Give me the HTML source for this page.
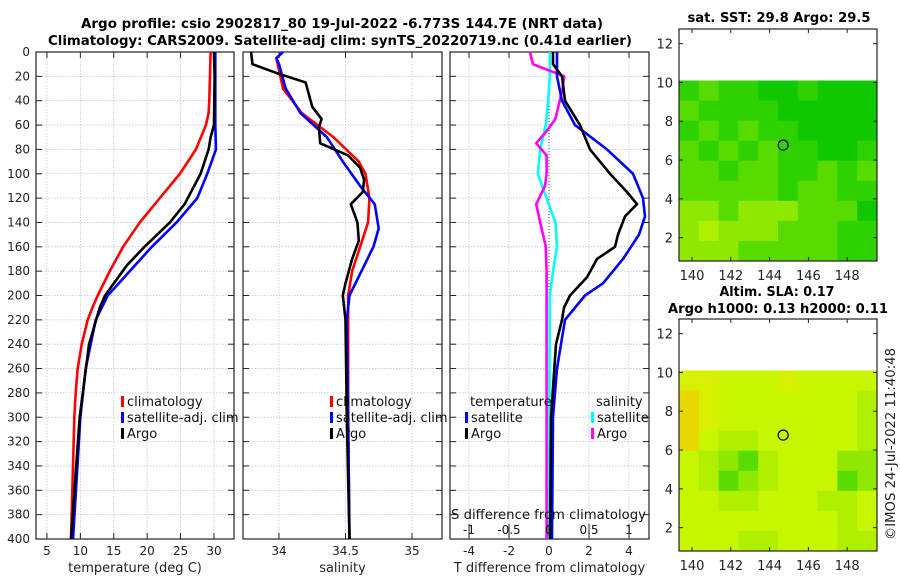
<!DOCTYPE html>
<html><head><meta charset="utf-8"><style>
body{margin:0;background:#fff;}
svg{display:block;font-family:"DejaVu Sans","Liberation Sans",sans-serif;}
</style></head><body>
<svg id="c" width="900" height="580" viewBox="0 0 900 580" xmlns="http://www.w3.org/2000/svg">
<text x="342" y="28" font-size="13" font-weight="bold" text-anchor="middle" textLength="522" lengthAdjust="spacingAndGlyphs">Argo profile: csio 2902817_80 19-Jul-2022 -6.773S 144.7E (NRT data)</text>
<text x="340" y="45" font-size="13" font-weight="bold" text-anchor="middle" textLength="584" lengthAdjust="spacingAndGlyphs">Climatology: CARS2009. Satellite-adj clim: synTS_20220719.nc (0.41d earlier)</text>
<text x="779" y="22" font-size="13" font-weight="bold" text-anchor="middle" textLength="183" lengthAdjust="spacingAndGlyphs">sat. SST: 29.8 Argo: 29.5</text>
<text x="777" y="296" font-size="13" font-weight="bold" text-anchor="middle" textLength="115" lengthAdjust="spacingAndGlyphs">Altim. SLA: 0.17</text>
<text x="778" y="313" font-size="13" font-weight="bold" text-anchor="middle" textLength="220" lengthAdjust="spacingAndGlyphs">Argo h1000: 0.13 h2000: 0.11</text>
<text transform="translate(895,444) rotate(-90)" font-size="13" text-anchor="middle" fill="#222" textLength="192" lengthAdjust="spacingAndGlyphs">©IMOS 24-Jul-2022 11:40:48</text>
</svg>
<script>
// ---- data ----
const depthsT=[0,20,40,50,60,80,100,120,140,160,180,200,210,220,240,260,280,300,320,340,360,380,400];
const tClim=[29.5,29.4,29.3,29.2,28.8,27.3,24.9,21.9,18.9,16.4,14.4,12.6,11.8,11.1,10.2,9.6,9.3,9.1,9.0,8.9,8.8,8.7,8.6];
const depthsArgoT=[0,20,60,70,80,100,125,140,160,175,200,210,240,300,400];
const tArgo=[30.0,30.1,30.0,29.5,29.2,28.0,25.6,23.4,19.6,17.0,13.7,12.9,11.3,9.9,8.6];
const depthsSatT=[0,60,80,100,120,140,160,180,200,220,260,300,400];
const tSat=[30.2,30.2,30.3,29.0,27.5,24.4,20.7,17.4,14.1,12.3,10.8,10.0,8.9];
const depthsArgoS=[0,10,18,25,45,55,62,75,85,95,105,115,125,140,155,170,190,200,220,300,400];
const sArgo=[33.79,33.8,34.0,34.2,34.25,34.32,34.3,34.31,34.52,34.61,34.64,34.63,34.54,34.59,34.6,34.55,34.5,34.48,34.5,34.51,34.53];
const depthsClimS=[5,30,50,70,90,100,120,140,160,180,200,250,300,400];
const sClim=[33.98,34.03,34.17,34.41,34.6,34.65,34.68,34.67,34.61,34.55,34.52,34.52,34.52,34.53];
const depthsSatS=[0,5,10,30,50,70,90,110,125,145,160,180,200,220,300,400];
const sSat=[34.03,33.98,34.0,34.05,34.16,34.36,34.48,34.61,34.72,34.75,34.71,34.62,34.53,34.51,34.52,34.53];
const depthsDT=[0,20,40,60,80,100,120,135,150,170,190,200,220,260,300,400];
const dTSat=[0.4,0.4,0.65,1.3,2.9,4.2,4.7,4.8,4.5,3.7,2.7,1.8,0.8,0.4,0.2,0.15];
const depthsDTA=[0,10,20,40,60,80,100,115,125,135,150,160,170,185,200,210,220,240,300,400];
const dTArgo=[0.2,0.2,0.65,0.8,1.55,2.05,3.05,3.9,4.4,3.8,3.45,3.3,2.4,1.9,1.05,0.75,0.65,0.35,0.1,0.05];
const depthsDS=[0,20,40,60,80,100,120,140,160,180,200,400];
const dSSat=[0.01,0.01,-0.01,-0.04,-0.11,-0.14,-0.03,0.08,0.1,0.05,0.01,0.0];
const depthsDSA=[0,10,20,30,55,65,75,85,100,110,125,140,160,180,400];
const dSArgo=[-0.24,-0.2,0.19,0.17,0.08,-0.03,-0.16,-0.03,-0.03,-0.05,-0.16,-0.11,-0.04,-0.03,-0.03];
const yTicks=[0,20,40,60,80,100,120,140,160,180,200,220,240,260,280,300,320,340,360,380,400];
const tTicks=[5,10,15,20,25,30];
const sTicks=[34,34.5,35];
const sTickLabels=["34","34.5","35"];
const dTTicks=[-4,-2,0,2,4];
const dSTicks=[-1,-0.5,0,0.5,1];
const dSTickLabels=["-1","-0.5","0","0.5","1"];
const lonTicks=[140,142,144,146,148];
const latTicks=[2,4,6,8,10,12];
const sstRows=["bcbbaabaaa","cbbbbaaaaa","bcbcbbaaaa","cbcbcbbaab","ccbccbbcbc","cccccbccbb","ddcdddccca","dedddcccbb","dddcccccbb"];
const slaRows=["ggfffgffff","hgfffffffe","hgfffffffe","hfeefffffe","fedcefffdd","fecdefffcd","ffeefffeef","ffffffffef","fffeefffee"];
const palette={a:"#10c800",b:"#2ed200",c:"#58dc00",d:"#8ee800",e:"#aef000",f:"#c6f600",g:"#d6f000",h:"#e6d800"};
// ---- drawing ----
const NS="http://www.w3.org/2000/svg",svg=document.getElementById('c');
function el(t,a,p){const e=document.createElementNS(NS,t);for(const k in a)e.setAttribute(k,a[k]);(p||svg).appendChild(e);return e;}
const Y0=52,Y1=539;
const yS=d=>Y0+d/400*(Y1-Y0);
function panel(name,x0,x1,vmin,vmax,ticks,labels,title,showY){
  const g=el('g',{});
  
  
  const xS=v=>x0+(v-vmin)/(vmax-vmin)*(x1-x0);
  yTicks.forEach(d=>{
    el('line',{x1:x0,x2:x1,y1:yS(d),y2:yS(d),stroke:'#b8c2e6','stroke-width':0.8,'stroke-dasharray':'1.5,1.5'},g);
    el('line',{x1:x0,x2:x0+6,y1:yS(d),y2:yS(d),stroke:'#222'},g);
    el('line',{x1:x1-6,x2:x1,y1:yS(d),y2:yS(d),stroke:'#222'},g);
    if(showY){const t=el('text',{x:x0-6,y:yS(d)+4,'font-size':12,'text-anchor':'end',fill:'#222'},g);t.textContent=d;
      
      }
  });
  ticks.forEach((v,i)=>{
    el('line',{x1:xS(v),x2:xS(v),y1:Y0,y2:Y1,stroke:'#b8c2e6','stroke-width':0.8,'stroke-dasharray':'1.5,1.5'},g);
    el('line',{x1:xS(v),x2:xS(v),y1:Y0,y2:Y0+6,stroke:'#222'},g);
    el('line',{x1:xS(v),x2:xS(v),y1:Y1-6,y2:Y1,stroke:'#222'},g);
    const t=el('text',{x:xS(v),y:555,'font-size':12,'text-anchor':'middle',fill:'#222'},g);t.textContent=labels[i];
    
    
  });
  el('rect',{x:x0,y:Y0,width:x1-x0,height:Y1-Y0,fill:'none',stroke:'#222','stroke-width':1.2},g);
  const tt=el('text',{x:(x0+x1)/2,y:572,'font-size':13,'text-anchor':'middle',fill:'#222'},g);tt.textContent=title;
  
  
  return xS;
}
function line(name,xS,ds,vs,color){
  const p=el('polyline',{points:ds.map((d,i)=>xS(vs[i])+','+yS(d)).join(' '),fill:'none',stroke:color,'stroke-width':2.6,'stroke-linejoin':'round'});
  
  
}
function legend(x,y,label,color){
  el('rect',{x:x,y:y-10,width:3,height:11,fill:color});
  const t=el('text',{x:x+6,y:y,'font-size':13,fill:'#111'});t.textContent=label;
  
  
}
const xT=panel('temperature-panel',36,234,3.36,33,tTicks,tTicks.map(String),'temperature (deg C)',true);
line('temp-climatology-line',xT,depthsT,tClim,'#f00');
line('temp-satellite-line',xT,depthsSatT,tSat,'#00f');
line('temp-argo-line',xT,depthsArgoT,tArgo,'#000');
legend(121,406,'climatology','#f00');legend(121,422,'satellite-adj. clim','#00f');legend(121,438,'Argo','#000');
const xSal=panel('salinity-panel',243,442,33.729,35.226,sTicks,sTickLabels,'salinity',false);
line('sal-climatology-line',xSal,depthsClimS,sClim,'#f00');
line('sal-satellite-line',xSal,depthsSatS,sSat,'#00f');
line('sal-argo-line',xSal,depthsArgoS,sArgo,'#000');
legend(330,406,'climatology','#f00');legend(330,422,'satellite-adj. clim','#00f');legend(330,438,'Argo','#000');
const xD=panel('difference-panel',450,649,-4.95,5,dTTicks,dTTicks.map(String),'T difference from climatology',false);
const xDS=v=>xD(v*4);
el('line',{x1:xD(0),x2:xD(0),y1:Y0,y2:Y1,stroke:'#555','stroke-width':1,'stroke-dasharray':'1,2'});
line('ds-satellite-line',xDS,depthsDS,dSSat,'#0ff');
line('ds-argo-line',xDS,depthsDSA,dSArgo,'#f0f');
line('dt-satellite-line',xD,depthsDT,dTSat,'#00f');
line('dt-argo-line',xD,depthsDTA,dTArgo,'#000');
{const t=el('text',{x:470,y:406,'font-size':13,fill:'#111'});t.textContent='temperature';

}
{const t=el('text',{x:596,y:406,'font-size':13,fill:'#111'});t.textContent='salinity';

}
legend(465,422,'satellite','#00f');legend(465,438,'Argo','#000');
legend(591,422,'satellite','#0ff');legend(591,438,'Argo','#f0f');
{const t=el('text',{x:646,y:519,'font-size':13,'text-anchor':'end',fill:'#111',textLength:195,lengthAdjust:'spacingAndGlyphs'});t.textContent='S difference from climatology';

}
dSTicks.forEach((v,i)=>{
  el('line',{x1:xDS(v),x2:xDS(v),y1:524,y2:536,stroke:'#222'});
  const t=el('text',{x:xDS(v),y:534,'font-size':12,'text-anchor':'middle',fill:'#111'});t.textContent=dSTickLabels[i];
  
  
});
// maps
function map(name,top,rows){
  const x0=679,x1=877,y0=top,y1=top+232;
  const lx=v=>x0+(v-139.33)*19.4, ly=v=>y0+51.5+(10.1-v)*19.4;
  const g=el('g',{});
  
  
  const nr=rows.length,nc=rows[0].length,cw=(x1-x0)/nc,ch=(y1-ly(10.1))/nr;
  rows.forEach((r,i)=>{for(let j=0;j<nc;j++){
    el('rect',{x:x0+j*cw,y:ly(10.1)+i*ch,width:cw+0.5,height:ch+0.5,fill:palette[r[j]]},g);}});
  el('circle',{cx:lx(144.7),cy:ly(6.77),r:5,fill:'none',stroke:'#000','stroke-width':1.2},g);
  latTicks.forEach(v=>{el('line',{x1:x0,x2:x0+4,y1:ly(v),y2:ly(v),stroke:'#222'},g);
    el('line',{x1:x1-4,x2:x1,y1:ly(v),y2:ly(v),stroke:'#222'},g);
    const t=el('text',{x:x0-6,y:ly(v)+5,'font-size':13,'text-anchor':'end',fill:'#222'},g);t.textContent=v;
    
    });
  lonTicks.forEach(v=>{el('line',{x1:lx(v),x2:lx(v),y1:y0,y2:y0+4,stroke:'#222'},g);
    el('line',{x1:lx(v),x2:lx(v),y1:y1-4,y2:y1,stroke:'#222'},g);
    const t=el('text',{x:lx(v),y:y1+19,'font-size':13,'text-anchor':'middle',fill:'#222'},g);t.textContent=v;
    
    });
  el('rect',{x:x0,y:y0,width:x1-x0,height:y1-y0,fill:'none',stroke:'#222','stroke-width':1.2},g);
}
map('sst-map',29,sstRows);
map('sla-map',319,slaRows);
</script>
</body></html>
